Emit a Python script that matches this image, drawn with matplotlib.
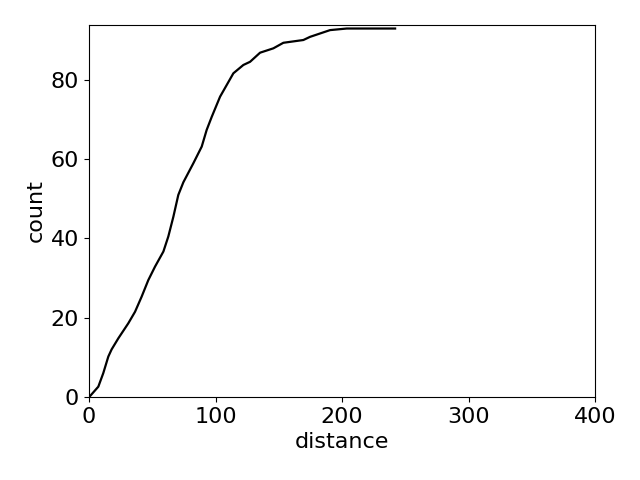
import matplotlib
matplotlib.use('Agg')
import matplotlib.pyplot as plt

# cumulative count vs distance
distance = [0, 0.8, 7.4, 11.3, 15.3, 17.9, 23.2, 31.1, 36.4, 41.6, 46.9, 52.2,
            58.8, 62.7, 66.7, 70.6, 74.6, 82.5, 89.1, 93.0, 97.0, 103.6, 114.1,
            122.0, 127.3, 135.2, 145.7, 153.6, 169.4, 174.7, 190.5, 203.7, 241.9]
count = [0, 0.2, 2.6, 6.0, 10.2, 12.0, 14.8, 18.6, 21.5, 25.3, 29.5, 32.9,
         36.7, 40.5, 45.5, 51.0, 54.2, 59.0, 63.2, 67.4, 70.7, 75.8, 81.7,
         83.8, 84.6, 86.9, 88.0, 89.4, 90.1, 90.9, 92.6, 93.0, 93.0]

fig, ax = plt.subplots(figsize=(6.4, 4.8), dpi=100)
ax.plot(distance, count, color='black', linewidth=1.6)
ax.set_xlim(0, 400)
ax.set_ylim(0, 93.9)
ax.set_xlabel('distance', fontsize=16)
ax.set_ylabel('count', fontsize=16)
ax.tick_params(labelsize=16)
fig.subplots_adjust(left=0.139, right=0.930, top=0.948, bottom=0.173)
fig.savefig('out.png', dpi=100)
